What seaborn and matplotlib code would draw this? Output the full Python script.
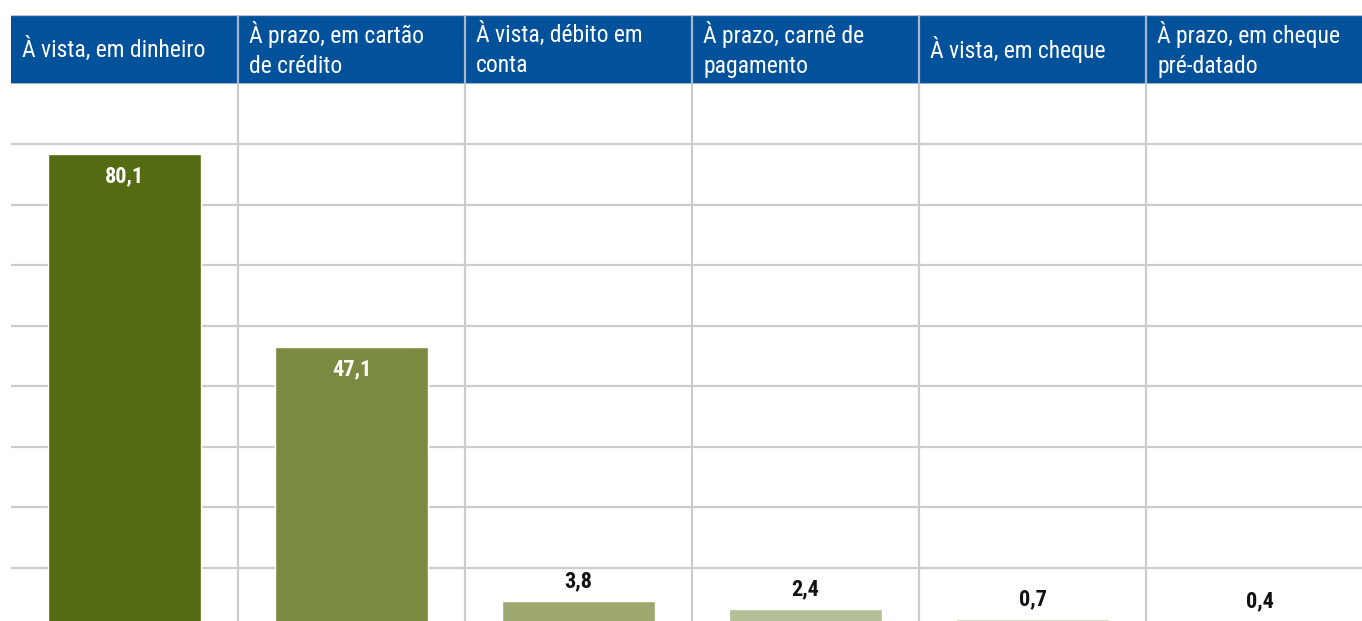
import matplotlib
matplotlib.use("Agg")
import matplotlib.pyplot as plt
import seaborn as sns
import pandas as pd
import numpy as np
from matplotlib import font_manager
from matplotlib.patches import Rectangle

# ---- data ----
categories = [
    "À vista, em dinheiro",
    "À prazo, em cartão\nde crédito",
    "À vista, débito em\nconta",
    "À prazo, carnê de\npagamento",
    "À vista, em cheque",
    "À prazo, em cheque\npré-datado",
]
values = [80.1, 47.1, 3.8, 2.4, 0.7, 0.4]
value_labels = ["80,1", "47,1", "3,8", "2,4", "0,7", "0,4"]
bar_colors = ["#556B12", "#7A8B41", "#9CA870", "#B3BF95", "#C8CFAA", "#D8DDC2"]

HEADER_BLUE = "#02519B"
GRID = "#CCCCCC"

sns.set_theme(style="white")

names = {f.name for f in font_manager.fontManager.ttflist}
narrow = None
for cand in ["Liberation Sans Narrow", "Roboto Condensed", "DejaVu Sans Condensed", "Roboto", "Liberation Sans"]:
    if cand in names:
        narrow = cand
        break
is_narrow = narrow in ("Liberation Sans Narrow", "Roboto Condensed", "DejaVu Sans Condensed")
plt.rcParams["font.family"] = [narrow, "DejaVu Sans"]
head_size = 17 if is_narrow else 15.5
val_size = 16 if is_narrow else 14

W, H = 1362, 621
fig = plt.figure(figsize=(W / 100, H / 100), dpi=100)
fig.patch.set_facecolor("white")

# geometry in pixels
left_px, col_w = 11, 227
head_top, head_bot = 15, 84
base_px = 623
px_per_unit = 5.85

ax = fig.add_axes([left_px / W, (H - base_px) / H, 6 * col_w / W, (base_px - head_bot) / H])
df = pd.DataFrame({"cat": categories, "val": values})
sns.barplot(data=df, x="cat", y="val", hue="cat", palette=bar_colors,
            width=0.67, legend=False, ax=ax, saturation=1, zorder=3)
ax.set_xlim(-0.5, 5.5)
ax.set_ylim(0, (base_px - head_bot) / px_per_unit)
grid_vals = [(base_px - (144 + 60.5 * k)) / px_per_unit for k in range(8)]
ax.set_yticks(grid_vals)
ax.yaxis.grid(True, color=GRID, lw=1.6)
ax.set_axisbelow(True)
for xb in np.arange(0.5, 5.5, 1):
    ax.axvline(xb, color=GRID, lw=1.6, zorder=1)
ax.set_xticks([])
ax.tick_params(left=False, labelleft=False, bottom=False, labelbottom=False)
ax.set_xlabel("")
ax.set_ylabel("")
for s in ax.spines.values():
    s.set_visible(False)

for i, (v, lab) in enumerate(zip(values, value_labels)):
    if v > 20:
        ax.annotate(lab, (i, v), xytext=(0, -15.5), textcoords="offset points",
                    ha="center", va="center", color="white", fontweight="bold",
                    fontsize=val_size, zorder=5)
    else:
        ax.annotate(lab, (i, v), xytext=(0, 6), textcoords="offset points",
                    ha="center", va="bottom", color="#111111", fontweight="bold",
                    fontsize=val_size, zorder=5)

# header row
hax = fig.add_axes([left_px / W, (H - head_bot) / H, 6 * col_w / W, (head_bot - head_top) / H])
hax.set_xlim(-0.5, 5.5)
hax.set_ylim(0, 1)
hax.axis("off")
hax.add_patch(Rectangle((-0.5, 0), 6, 1, facecolor=HEADER_BLUE, edgecolor="none", zorder=1))
hax.axhline(1, color="#B9C3D6", lw=1.6, zorder=2)
hax.axhline(0, color="#B9C3D6", lw=1.2, zorder=2)
for xb in np.arange(0.5, 5.5, 1):
    hax.axvline(xb, color="#A9B6CC", lw=1.6, zorder=2)
for i, cat in enumerate(categories):
    hax.text(i - 0.5 + 0.05, 0.5, cat, ha="left", va="center", color="white",
             fontsize=head_size, linespacing=1.4, zorder=3)

fig.savefig("out.png", dpi=100, facecolor="white")
